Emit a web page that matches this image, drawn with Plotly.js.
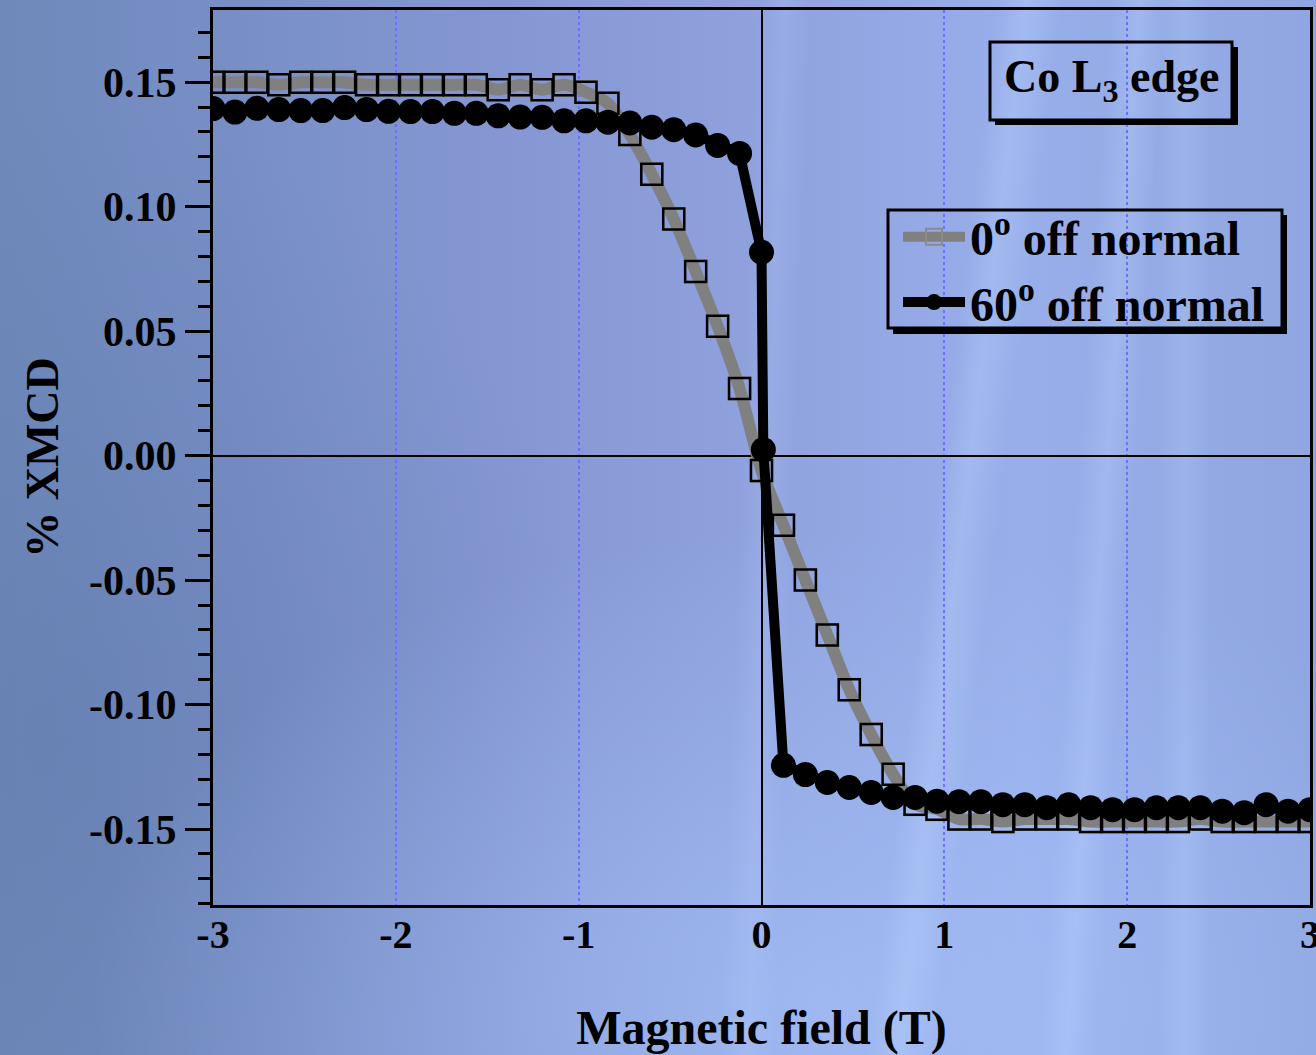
<!DOCTYPE html>
<html>
<head>
<meta charset="utf-8">
<script src="https://cdn.plot.ly/plotly-3.0.1.min.js"></script>
<style>
html, body { margin: 0; padding: 0; }
body {
  width: 1316px; height: 1055px; overflow: hidden;
  background:
    linear-gradient(97deg, rgba(255,255,255,0) 69%, rgba(190,215,255,0.30) 71%, rgba(255,255,255,0) 73.5%),
    linear-gradient(94deg, rgba(255,255,255,0) 80%, rgba(190,215,255,0.28) 82%, rgba(255,255,255,0) 84%),
    linear-gradient(92deg, rgba(255,255,255,0) 56%, rgba(190,210,255,0.18) 58%, rgba(255,255,255,0) 60%),
    linear-gradient(90deg, rgba(255,255,255,0) 88%, rgba(190,215,255,0.22) 90%, rgba(255,255,255,0) 92%),
    radial-gradient(ellipse 55% 45% at 62% 95%, rgba(170,200,255,0.55), rgba(170,200,255,0) 100%),
    radial-gradient(ellipse 40% 60% at 5% 70%, rgba(95,120,170,0.45), rgba(95,120,170,0) 100%),
    linear-gradient(90deg, #6f89bb 0%, #788fc6 18%, #8597d3 38%, #8fa2de 58%, #98aeea 78%, #8fa6e0 100%);
}
#chart { width: 1316px; height: 1055px; }
</style>
</head>
<body>
<div id="chart"></div>
<script>
// ---- Data ----
const field0 = [-3.00,-2.88,-2.76,-2.64,-2.52,-2.40,-2.28,-2.16,-2.04,-1.92,-1.80,-1.68,-1.56,-1.44,-1.32,-1.20,-1.08,-0.96,-0.84,-0.72,-0.60,-0.48,-0.36,-0.24,-0.12,0.00,0.12,0.24,0.36,0.48,0.60,0.72,0.84,0.96,1.08,1.20,1.32,1.44,1.56,1.68,1.80,1.92,2.04,2.16,2.28,2.40,2.52,2.64,2.76,2.88,3.00];
const xmcd0 = [0.150,0.150,0.150,0.149,0.150,0.150,0.150,0.149,0.149,0.149,0.149,0.149,0.149,0.147,0.149,0.147,0.149,0.146,0.1415,0.129,0.113,0.095,0.074,0.052,0.027,-0.006,-0.028,-0.050,-0.072,-0.094,-0.112,-0.128,-0.140,-0.142,-0.146,-0.146,-0.147,-0.146,-0.146,-0.146,-0.147,-0.147,-0.147,-0.147,-0.147,-0.146,-0.147,-0.147,-0.147,-0.147,-0.147];

const field60 = [-3.00,-2.88,-2.76,-2.64,-2.52,-2.40,-2.28,-2.16,-2.04,-1.92,-1.80,-1.68,-1.56,-1.44,-1.32,-1.20,-1.08,-0.96,-0.84,-0.72,-0.60,-0.48,-0.36,-0.24,-0.12,0.00,0.01,0.12,0.24,0.36,0.48,0.60,0.72,0.84,0.96,1.08,1.20,1.32,1.44,1.56,1.68,1.80,1.92,2.04,2.16,2.28,2.40,2.52,2.64,2.76,2.88,3.00];
const xmcd60 = [0.1394,0.1380,0.1395,0.1390,0.1386,0.1386,0.1398,0.1390,0.1383,0.1382,0.1382,0.1375,0.1375,0.1365,0.1360,0.1359,0.1345,0.1345,0.1339,0.1336,0.1319,0.1309,0.1288,0.1246,0.1214,0.0817,0.0024,-0.1244,-0.1281,-0.1313,-0.1333,-0.1353,-0.1373,-0.1373,-0.1388,-0.1390,-0.1390,-0.1402,-0.1402,-0.1414,-0.1402,-0.1414,-0.1422,-0.1422,-0.1414,-0.1414,-0.1414,-0.1428,-0.1434,-0.1402,-0.1428,-0.1422];

const xTickVals = [-3,-2,-1,0,1,2,3];
const xTickText = ['-3','-2','-1','0','1','2','3'];
const yTickVals = [-0.15,-0.10,-0.05,0.00,0.05,0.10,0.15];
const yTickText = ['-0.15','-0.10','-0.05','0.00','0.05','0.10','0.15'];

const name0 = '0<sup>o</sup> off normal';
const name60 = '60<sup>o</sup> off normal';
const edgeLabel = 'Co L<sub>3</sub> edge';
const xTitle = 'Magnetic field (T)';
const yTitle = '% XMCD';

// ---- Layout helpers (pixel -> paper) ----
const L = 213, R = 1310, T = 10, B = 905;
const PX = p => (p - L) / (R - L);
const PY = p => (B - p) / (B - T);
const serif = '"Liberation Serif", "Times New Roman", Times, serif';

const traces = [
  {
    x: field0, y: xmcd0, name: name0, type: 'scatter', mode: 'lines+markers',
    line: {color: '#808080', width: 12, shape: 'spline', smoothing: 0.8},
    marker: {symbol: 'square-open', size: 22, color: '#8a8a8a', line: {width: 2, color: '#8a8a8a'}}
  },
  {
    x: field0, y: xmcd0, name: name0, type: 'scatter', mode: 'markers', showlegend: false,
    marker: {symbol: 'square-open', size: 21, color: '#000000', line: {width: 2.5, color: '#000000'}}
  },
  {
    x: field60, y: xmcd60, name: name60, type: 'scatter', mode: 'lines+markers',
    line: {color: '#000000', width: 10},
    marker: {symbol: 'circle', size: 25, color: '#000000'}
  }
];

function bar(x0, y0, x1, y1) {
  return {type: 'rect', xref: 'paper', yref: 'paper', x0: PX(x0), x1: PX(x1), y0: PY(y1), y1: PY(y0),
          fillcolor: '#000000', line: {width: 0}, layer: 'above'};
}
function box(x0, y0, x1, y1) {
  return {type: 'rect', xref: 'paper', yref: 'paper', x0: PX(x0), x1: PX(x1), y0: PY(y1), y1: PY(y0),
          line: {color: '#000000', width: 3}, fillcolor: 'rgba(0,0,0,0)', layer: 'above'};
}

const layout = {
  width: 1316, height: 1055,
  margin: {l: L, r: 1316 - R, t: T, b: 1055 - B},
  paper_bgcolor: 'rgba(0,0,0,0)', plot_bgcolor: 'rgba(0,0,0,0)',
  font: {family: serif, color: '#000000', weight: 700},
  showlegend: true,
  legend: {
    x: PX(898), y: PY(199), xanchor: 'left', yanchor: 'top',
    bgcolor: 'rgba(0,0,0,0)', borderwidth: 0,
    font: {family: serif, size: 48, color: '#000000', weight: 700},
    itemwidth: 62, tracegroupgap: 0
  },
  xaxis: {
    range: [-3, 3], tickmode: 'array', tickvals: xTickVals, ticktext: xTickText,
    ticks: '', ticklabelstandoff: -8, ticklabeloverflow: 'allow',
    tickfont: {family: serif, size: 40, color: '#000000', weight: 700},
    showline: true, linecolor: '#000000', linewidth: 3, mirror: true,
    showgrid: true, gridcolor: '#6e6eff', gridwidth: 2, griddash: 'dot',
    zeroline: true, zerolinecolor: '#000000', zerolinewidth: 2,
    title: {text: xTitle, font: {family: serif, size: 48, color: '#000000', weight: 700}, standoff: 62}
  },
  yaxis: {
    range: [-0.1805, 0.179], tickmode: 'array', tickvals: yTickVals, ticktext: yTickText,
    ticks: 'outside', ticklen: 25, tickwidth: 3, tickcolor: '#000000', ticklabelstandoff: 0,
    tickfont: {family: serif, size: 42, color: '#000000', weight: 700},
    minor: {tick0: 0, dtick: 0.01, ticks: 'outside', ticklen: 12, tickwidth: 3, tickcolor: '#000000', showgrid: false},
    showline: true, linecolor: '#000000', linewidth: 3, mirror: true,
    showgrid: false,
    zeroline: true, zerolinecolor: '#000000', zerolinewidth: 2,
    title: {text: yTitle, font: {family: serif, size: 46, color: '#000000', weight: 700}, standoff: 16}
  },
  shapes: [
    // "Co L3 edge" box + shadow
    box(990, 42, 1232, 120),
    bar(1232, 47, 1238, 125), bar(995, 120, 1238, 125),
    // legend box + shadow
    box(888, 210, 1282, 328),
    bar(1282, 215, 1287, 334), bar(893, 328, 1287, 334)
  ],
  annotations: [
    {xref: 'paper', yref: 'paper', x: PX(1111), y: PY(80), xanchor: 'center', yanchor: 'middle',
     text: edgeLabel, showarrow: false,
     font: {family: serif, size: 46, color: '#000000', weight: 700}}
  ]
};

Plotly.newPlot('chart', traces, layout, {displayModeBar: false, staticPlot: true});
</script>
</body>
</html>
